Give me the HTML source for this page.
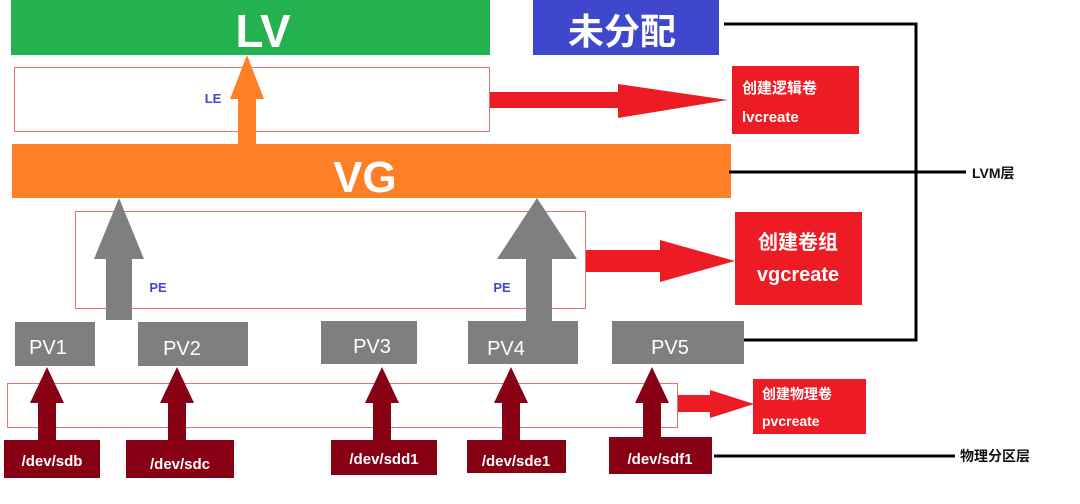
<!DOCTYPE html>
<html><head><meta charset="utf-8"><style>
html,body{margin:0;padding:0;background:#fff;width:1080px;height:504px;overflow:hidden}
svg{display:block}
text{font-family:"Liberation Sans","Noto Sans CJK SC",sans-serif}
</style></head><body>
<svg width="1080" height="504" viewBox="0 0 1080 504" xmlns="http://www.w3.org/2000/svg">
<!-- LV -->
<rect x="11" y="0" width="479" height="55" fill="#24b14f"/>
<text x="263" y="47" font-size="46" font-weight="bold" fill="#fff" text-anchor="middle">LV</text>
<rect x="533" y="0" width="186" height="55" fill="#3f48cc"/>
<text x="622" y="44" font-size="36" font-weight="bold" fill="#fff" text-anchor="middle" font-family="Noto Sans CJK SC,sans-serif">未分配</text>
<!-- LE box -->
<rect x="14.5" y="67.5" width="475" height="64" fill="none" stroke="#f07070" stroke-width="1"/>
<text x="213" y="103" font-size="13" font-weight="bold" fill="#3f48cc" text-anchor="middle">LE</text>
<!-- orange arrow -->
<polygon points="238,144 238,99 230,99 247,55 264,99 256,99 256,144" fill="#ff7f27"/>
<!-- red arrow LE -->
<polygon points="490,92 618,92 618,84 728,100 618,118 618,108 490,108" fill="#ed1c24"/>
<rect x="732" y="66" width="127" height="68" fill="#ed1c24"/>
<text x="742" y="93" font-size="15" font-weight="bold" fill="#fff" font-family="Noto Sans CJK SC,sans-serif">创建逻辑卷</text>
<text x="742" y="122" font-size="15" font-weight="bold" fill="#fff">lvcreate</text>
<!-- VG -->
<rect x="12" y="144" width="719" height="54" fill="#ff7f27"/>
<text x="365" y="192" font-size="44" font-weight="bold" fill="#fff" text-anchor="middle">VG</text>
<!-- black lines -->
<polyline points="724,24 916,24 916,340 737,340" fill="none" stroke="#000" stroke-width="3"/>
<line x1="729" y1="172" x2="966" y2="172" stroke="#000" stroke-width="3"/>
<text x="972" y="178" font-size="14" font-weight="bold" fill="#111">LVM层</text>
<!-- PE box -->
<rect x="75.5" y="211.5" width="510" height="97" fill="none" stroke="#f07070" stroke-width="1"/>
<polygon points="106,320 106,259 94,259 119,198 144,259 132,259 132,320" fill="#7f7f7f"/>
<polygon points="526,322 526,259 497,259 537,198 577,259 552,259 552,322" fill="#7f7f7f"/>
<text x="158" y="292" font-size="13" font-weight="bold" fill="#3f48cc" text-anchor="middle">PE</text>
<text x="502" y="292" font-size="13" font-weight="bold" fill="#3f48cc" text-anchor="middle">PE</text>
<!-- red arrow vg -->
<polygon points="586,250 660,250 660,240 735,261 660,282 660,272 586,272" fill="#ed1c24"/>
<rect x="735" y="212" width="127" height="93" fill="#ed1c24"/>
<text x="798" y="249" font-size="20" font-weight="bold" fill="#fff" text-anchor="middle" font-family="Noto Sans CJK SC,sans-serif">创建卷组</text>
<text x="798" y="281" font-size="20" font-weight="bold" fill="#fff" text-anchor="middle">vgcreate</text>
<!-- PV boxes -->
<g fill="#7f7f7f">
<rect x="15" y="322" width="80" height="44"/>
<rect x="138" y="322" width="110" height="44"/>
<rect x="321" y="321" width="96" height="43"/>
<rect x="468" y="321" width="110" height="43"/>
<rect x="612" y="321" width="132" height="43"/>
</g>
<g font-size="20" fill="#fff" text-anchor="middle">
<text x="48" y="354">PV1</text>
<text x="182" y="355">PV2</text>
<text x="372" y="353">PV3</text>
<text x="506" y="355">PV4</text>
<text x="670" y="354">PV5</text>
</g>
<!-- pvcreate box -->
<rect x="7.5" y="383.5" width="670" height="44" fill="none" stroke="#f07070" stroke-width="1"/>
<!-- dark red arrows -->
<g fill="#870014">
<polygon points="38,441 38,403 30,403 47,367 64,403 56,403 56,441"/>
<polygon points="168,441 168,403 160,403 177,367 194,403 186,403 186,441"/>
<polygon points="373,441 373,403 365,403 382,367 399,403 391,403 391,441"/>
<polygon points="502,441 502,403 494,403 511,367 528,403 520,403 520,441"/>
<polygon points="643,438 643,403 635,403 652,367 669,403 661,403 661,438"/>
<rect x="4" y="440" width="96" height="38"/>
<rect x="126" y="440" width="108" height="38"/>
<rect x="331" y="440" width="106" height="35"/>
<rect x="467" y="440" width="99" height="33"/>
<rect x="609" y="437" width="103" height="37"/>
</g>
<g font-size="15" font-weight="bold" fill="#fff" text-anchor="middle">
<text x="52" y="466">/dev/sdb</text>
<text x="180" y="469">/dev/sdc</text>
<text x="384" y="464">/dev/sdd1</text>
<text x="516" y="466">/dev/sde1</text>
<text x="660" y="464">/dev/sdf1</text>
</g>
<line x1="714" y1="456" x2="955" y2="456" stroke="#000" stroke-width="3"/>
<text x="960" y="461" font-size="14" font-weight="bold" fill="#111" font-family="Noto Sans CJK SC,sans-serif">物理分区层</text>
<!-- red arrow pv -->
<polygon points="678,395 710,395 710,390 754,404 710,418 710,412 678,412" fill="#ed1c24"/>
<rect x="753" y="379" width="113" height="55" fill="#ed1c24"/>
<text x="762" y="399" font-size="14" font-weight="bold" fill="#fff" font-family="Noto Sans CJK SC,sans-serif">创建物理卷</text>
<text x="762" y="426" font-size="14" font-weight="bold" fill="#fff">pvcreate</text>
</svg>
</body></html>
